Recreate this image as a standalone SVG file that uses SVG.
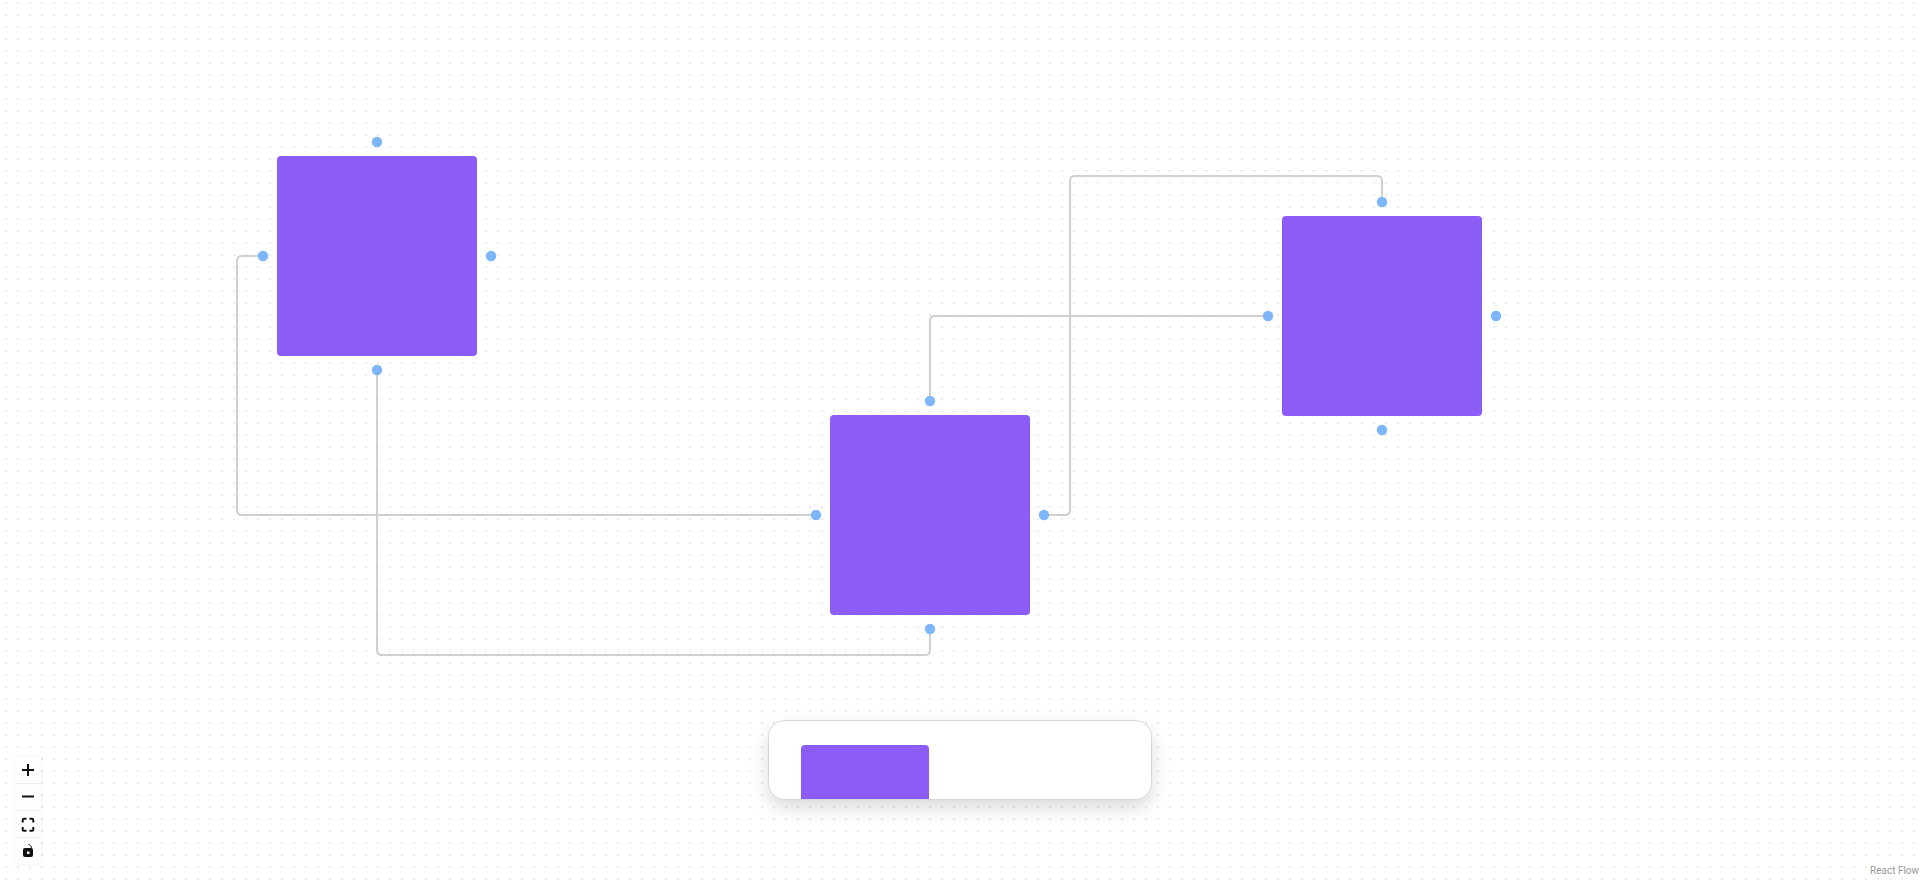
<svg xmlns="http://www.w3.org/2000/svg" width="1920" height="880" viewBox="0 0 1920 880">
<style>
.node{fill:#8b5cf6}
.handle{fill:#7eb6fb}
.edge{fill:none;stroke:#d0d0d0;stroke-width:2}
.ico{fill:none;stroke:#111;stroke-width:2}
</style>
<defs>
<pattern id="dots" x="0" y="0" width="12" height="12" patternUnits="userSpaceOnUse"><rect x="5" y="2" width="2" height="2" fill="#ebebeb"/></pattern>
<filter id="sh" x="-15%" y="-50%" width="130%" height="220%"><feDropShadow dx="0" dy="8" stdDeviation="9" flood-color="#000" flood-opacity="0.15"/></filter>
<filter id="sh2" x="-30%" y="-10%" width="160%" height="120%"><feDropShadow dx="0" dy="0" stdDeviation="1.500" flood-color="#000" flood-opacity="0.08"/></filter>
<clipPath id="pc"><rect x="768.500" y="720.500" width="383" height="79" rx="16"/></clipPath>
</defs>
<rect width="1920" height="880" fill="#fff"/>
<rect width="1920" height="880" fill="url(#dots)"/>
<g id="connectors">
<path class="edge" d="M263 256H242Q237 256 237 261V510Q237 515 242 515H816"/>
<path class="edge" d="M377 370V650Q377 655 382 655H925Q930 655 930 650V629"/>
<path class="edge" d="M930 401V321Q930 316 935 316H1268"/>
<path class="edge" d="M1044 515H1065Q1070 515 1070 510V181Q1070 176 1075 176H1377Q1382 176 1382 181V202"/>
</g>
<g id="node-1">
<rect class="node" x="277" y="156" width="200" height="200" rx="4"/>
<circle class="handle" cx="377" cy="142" r="5.200"/><circle class="handle" cx="263" cy="256" r="5.200"/><circle class="handle" cx="491" cy="256" r="5.200"/><circle class="handle" cx="377" cy="370" r="5.200"/>
</g>
<g id="node-2">
<rect class="node" x="830" y="415" width="200" height="200" rx="4"/>
<circle class="handle" cx="930" cy="401" r="5.200"/><circle class="handle" cx="816" cy="515" r="5.200"/><circle class="handle" cx="1044" cy="515" r="5.200"/><circle class="handle" cx="930" cy="629" r="5.200"/>
</g>
<g id="node-3">
<rect class="node" x="1282" y="216" width="200" height="200" rx="4"/>
<circle class="handle" cx="1382" cy="202" r="5.200"/><circle class="handle" cx="1268" cy="316" r="5.200"/><circle class="handle" cx="1496" cy="316" r="5.200"/><circle class="handle" cx="1382" cy="430" r="5.200"/>
</g>
<g id="palette">
<rect x="768.500" y="720.500" width="383" height="79" rx="16" fill="#fff" filter="url(#sh)"/>
<rect x="801" y="745" width="128" height="70" rx="4" class="node" clip-path="url(#pc)"/>
<rect x="768.500" y="720.500" width="383" height="79" rx="16" fill="none" stroke="#d6d6da" stroke-width="1"/>
</g>
<g id="controls">
<rect x="15" y="757" width="26" height="107" fill="#fefefe" filter="url(#sh2)"/>
<path d="M15 783.500H41M15 810.500H41M15 837.500H41" stroke="#eeeeee" fill="none"/>
<path class="ico" d="M22 770H34M28 764V776"/>
<path class="ico" d="M22 796.500H34"/>
<path class="ico" d="M22.700 822.500V820Q22.700 818.700 24 818.700H26.500M29.500 818.700H32Q33.300 818.700 33.300 820V822.500M33.300 827V829.500Q33.300 830.800 32 830.800H29.500M26.500 830.800H24Q22.700 830.800 22.700 829.500V827" stroke="#222" stroke-width="1.400"/>
<path d="M28.500 844.500a3 3 0 0 1 2.800 3.500" fill="none" stroke="#111" stroke-width="1"/>
<rect x="23" y="848" width="10" height="9" rx="2" fill="#111"/>
<rect x="27" y="851.500" width="2.500" height="2.500" fill="#fff"/>
</g>
<g id="attribution">
<rect x="1866" y="864" width="54" height="16" fill="#fff" fill-opacity="0.5"/>
<text x="1870" y="874" font-family="Roboto,'Liberation Sans',sans-serif" font-size="10" fill="#999">React Flow</text>
</g>
</svg>
